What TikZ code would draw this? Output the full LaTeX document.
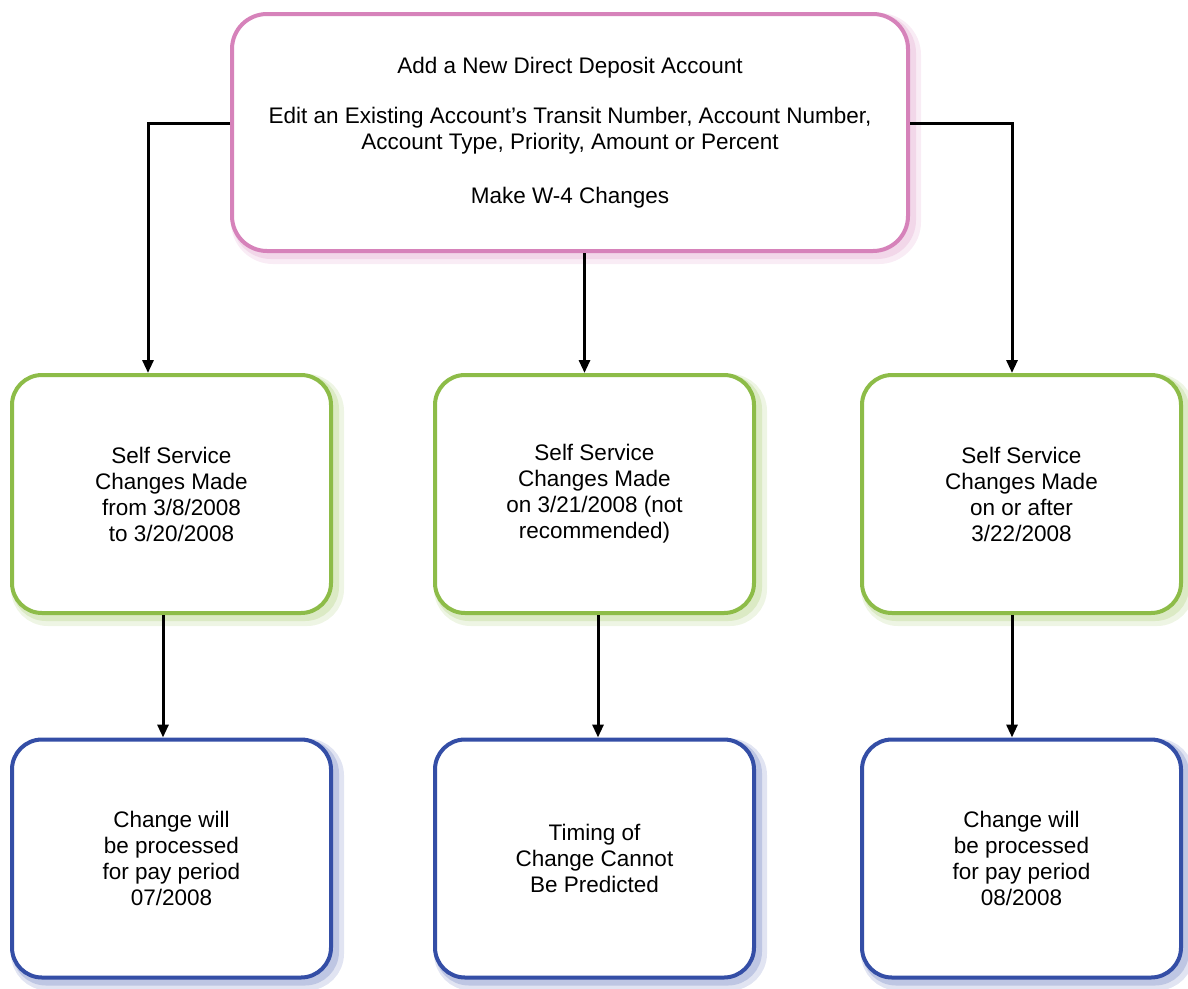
\documentclass[tikz,border=0pt]{standalone}
\usepackage{fontspec}
\setmainfont{Liberation Sans}
\usetikzlibrary{arrows.meta}
\usetikzlibrary{positioning}
\definecolor{pinkline}{RGB}{214,130,186}
\definecolor{greenline}{RGB}{141,188,72}
\definecolor{blueline}{RGB}{52,78,166}
\tikzset{>=Triangle}
\tikzstyle{line} = [draw, 
-{Triangle[length=13pt,width=11pt]}, 
line width=3pt, color=black]

\begin{document}
\begin{tikzpicture}[x=1pt, y=-1pt,
		font=\fontsize{22.5}{26}\selectfont,
		box/.style={draw, rectangle, rounded corners=30pt, line width=4pt,
			fill=white, align=center, inner sep=0pt,
			minimum width=319pt, minimum height=238pt},
		glow/.style={preaction={draw=#1!15, line width=14pt,
			transform canvas={xshift=6pt, yshift=-6pt}},
			preaction={draw=#1!32, line width=8pt,
			transform canvas={xshift=4pt, yshift=-4pt}}},
		topbox/.style={box, draw=pinkline, glow=pinkline, rounded corners=35pt,
			minimum width=676pt, minimum height=237pt},
		datebox/.style={box, draw=greenline, glow=greenline},
		paybox/.style={box, draw=blueline, glow=blueline}]
		\useasboundingbox (0,0) rectangle (1188,988);
		%% Request
		\node [topbox] at (570,132.5) (T) {Add a New Direct Deposit Account\\[24pt]
			Edit an Existing Account’s Transit Number, Account Number,\\
			Account Type, Priority, Amount or Percent\\[28pt]
			Make W-4 Changes};
		%% Dates
		\node [datebox] at (171.5,494) (A) {Self Service\\ Changes Made\\ from 3/8/2008\\ to 3/20/2008};
		\node [datebox] at (594.5,494) (B) {Self Service\\ Changes Made\\ on 3/21/2008 (not\\ recommended)};
		\node [datebox] at (1021.5,494) (C) {Self Service\\ Changes Made\\ on or after\\ 3/22/2008};
		%% Pay periods
		\node [paybox] at (171.5,858.5) (D) {Change will\\ be processed\\ for pay period\\ 07/2008};
		\node [paybox] at (594.5,858.5) (E) {Timing of\\ Change Cannot\\ Be Predicted};
		\node [paybox] at (1021.5,858.5) (F) {Change will\\ be processed\\ for pay period\\ 08/2008};
		%% Flows
		\path [line] ([yshift=9.5pt]T.west) -| ([xshift=-23.5pt]A.north);
		\path [line] ([xshift=-10pt]B.north |- T.south) -- ([xshift=-10pt]B.north);
		\path [line] ([yshift=9.5pt]T.east) -| ([xshift=-9.5pt]C.north);
		\path [line] ([xshift=-8.5pt]A.south) -- ([xshift=-8.5pt]D.north);
		\path [line] ([xshift=3.5pt]B.south) -- ([xshift=3.5pt]E.north);
		\path [line] ([xshift=-9.5pt]C.south) -- ([xshift=-9.5pt]F.north);
	\end{tikzpicture}
\end{document}
